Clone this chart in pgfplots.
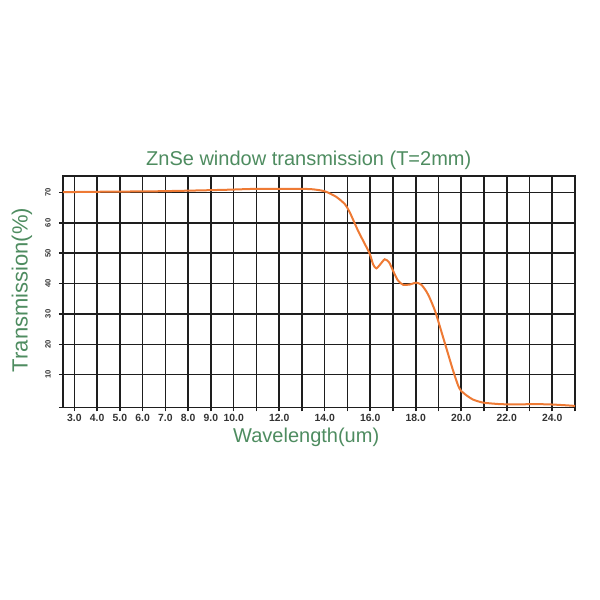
\documentclass[border=0pt]{standalone}
\usepackage{pgfplots}
\pgfplotsset{compat=1.18}
\usepackage{fontspec}
\setmainfont{Liberation Sans}
\definecolor{titlegreen}{RGB}{78,140,96}
\definecolor{curveorange}{RGB}{238,122,52}
\definecolor{gridc}{RGB}{30,30,30}
\begin{document}
\begin{tikzpicture}
\path[use as bounding box] (-31.5pt,-96.35pt) rectangle (268.5pt,203.65pt);
\begin{axis}[
  at={(0,0)}, anchor=south west,
  scale only axis, width=256pt, height=115.6pt,
  xmin=2.5, xmax=25, ymin=-0.75, ymax=75.4,
  xtick={3,4,...,25},
  xticklabels={3.0,4.0,5.0,6.0,7.0,8.0,9.0,10.0,,12.0,,14.0,,16.0,,18.0,,20.0,,22.0,,24.0,},
  ytick={-0.75,10,20,...,70},
  yticklabels={,10,20,30,40,50,60,70},
  grid=major,
  major grid style={gridc, line width=0.8pt},
  axis line style={gridc, line width=0.8pt},
  tick style={gridc, line width=0.8pt},
  tick align=outside, major tick length=2pt,
  xtick pos=bottom, ytick pos=left,
  xticklabel style={font=\fontsize{5.2}{6}\selectfont\bfseries, text=black!80, anchor=center, yshift=-3.5pt},
  yticklabel style={font=\fontsize{3.8}{4}\selectfont\bfseries, text=black!80, rotate=90, anchor=center, yshift=5.5pt},
  every axis title shift=0pt,
  title={ZnSe window transmission (T=2mm)},
  title style={at={(axis description cs:0.48,1.0675)}, anchor=center, font=\fontsize{10}{12}\selectfont, text=titlegreen},
  xlabel={Wavelength(um)},
  xlabel style={at={(axis description cs:0.475,-0.13)}, anchor=center, font=\fontsize{10}{12}\selectfont, text=titlegreen},
  ylabel={Transmission(\%)},
  ylabel style={at={(axis description cs:-0.08,0.507)}, anchor=center, rotate=0, font=\fontsize{11}{13}\selectfont, text=titlegreen},
  clip=false,
]
\addplot[curveorange, line width=1pt, smooth, tension=0.4] coordinates {
(2.5,70.1) (3.5,70.2) (5,70.3) (6.6,70.4) (8,70.6) (9.7,70.9) (11,71.2) (12.5,71.2) (13.4,71.1) (14.0,70.4) (14.5,68.6) (14.88,66.2) (15.1,63.5) (15.46,57.5) (15.76,53.1) (15.98,49.8) (16.13,46.3) (16.27,45.0) (16.46,46.5) (16.64,48.0) (16.83,47.0) (17.0,44.3) (17.22,41.0) (17.45,39.6) (17.74,39.7) (18.03,40.3) (18.25,39.6) (18.47,37.4) (18.62,35.2) (18.84,31.2) (18.98,27.9) (19.2,22.4) (19.42,16.9) (19.64,11.4) (19.86,6.5) (19.98,4.8) (20.23,3.2) (20.52,1.8) (20.96,0.8) (21.7,0.3) (22.43,0.2) (23.17,0.3) (23.9,0.2) (24.63,-0.1) (25,-0.3)
};
\end{axis}
\end{tikzpicture}
\end{document}
